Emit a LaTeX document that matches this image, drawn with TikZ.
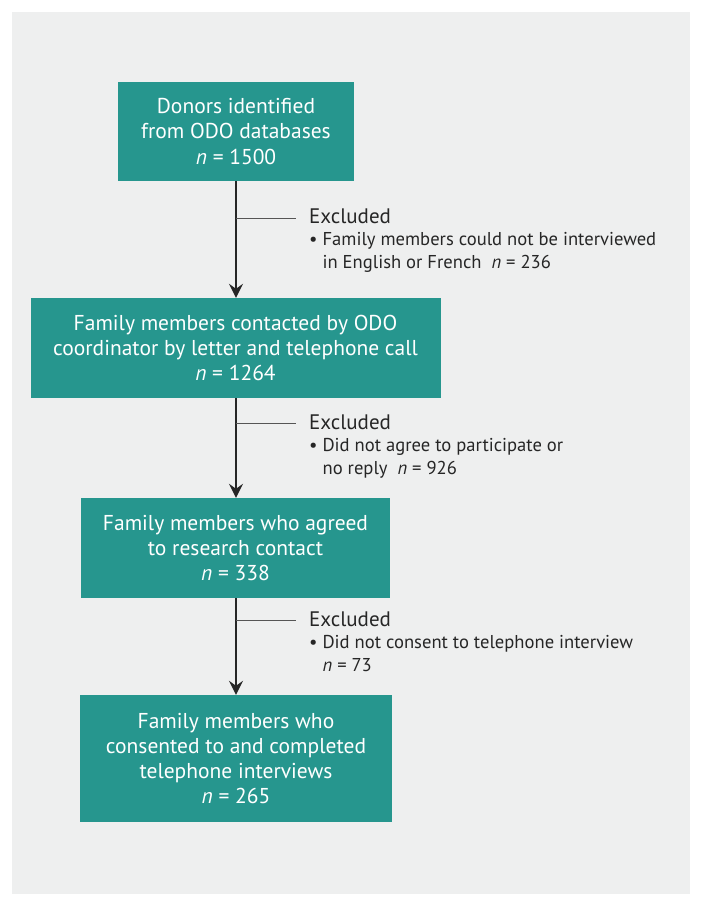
\documentclass[tikz,border=0pt]{standalone}
\usepackage{fontspec}
\setmainfont{PT Sans}
\usetikzlibrary{arrows.meta}
\definecolor{bgc}{HTML}{EEEFEF}
\definecolor{teal1}{HTML}{26968E}
\definecolor{linec}{HTML}{262626}
\definecolor{branchc}{HTML}{555555}
\begin{document}
\begin{tikzpicture}[x=1pt,y=-1pt,
  box/.style={fill=teal1,text=white,align=center,inner sep=0pt,font=\fontsize{21.5}{25.3}\selectfont},
  exhead/.style={anchor=west,inner sep=0pt,text=black!85,font=\fontsize{21}{24}\selectfont},
  exbody/.style={anchor=north west,inner sep=0pt,align=left,text=black!85,font=\fontsize{18.6}{23}\selectfont},
  flow/.style={draw=linec,line width=1.4pt,-{Stealth[length=14pt,width=14pt,inset=5pt]}},
  branch/.style={draw=branchc,line width=1.2pt}]
\useasboundingbox (0,0) rectangle (703,907);
\fill[bgc] (12,12) rectangle (690,894);
\node[box,minimum width=236pt,minimum height=99pt] (b1) at (236,131.5) {Donors identified\\from ODO databases\\\textit{n} = 1500};
\node[box,minimum width=410pt,minimum height=100pt] (b2) at (235.5,348) {Family members contacted by ODO\\coordinator by letter and telephone call\\\textit{n} = 1264};
\node[box,minimum width=309pt,minimum height=100pt] (b3) at (235.5,548) {Family members who agreed\\to research contact\\\textit{n} = 338};
\node[box,minimum width=312pt,minimum height=127pt] (b4) at (236,758.5) {Family members who\\consented to and completed\\telephone interviews\\\textit{n} = 265};
\draw[flow] (b1.south -| 236,0) -- (b2.north -| 236,0);
\draw[flow] (b2.south -| 236,0) -- (b3.north -| 236,0);
\draw[flow] (b3.south -| 236,0) -- (b4.north -| 236,0);
\coordinate (j1) at (236,218.5); \coordinate (e1) at (296,218.5);
\coordinate (j2) at (236,423.5); \coordinate (e2) at (296,423.5);
\coordinate (j3) at (236,620.5); \coordinate (e3) at (296,620.5);
\draw[branch] (j1) -- (e1);
\draw[branch] (j2) -- (e2);
\draw[branch] (j3) -- (e3);
\node[exhead] (x1) at (309,216) {Excluded};
\node[exbody] (t1) at (309,232) {• Family members could not be interviewed\\\hphantom{• }in English or French \ \textit{n} = 236};
\node[exhead] (x2) at (309,422) {Excluded};
\node[exbody] (t2) at (309,438) {• Did not agree to participate or\\\hphantom{• }no reply \ \textit{n} = 926};
\node[exhead] (x3) at (309,619) {Excluded};
\node[exbody] (t3) at (309,635) {• Did not consent to telephone interview\\\hphantom{• }\textit{n} = 73};
\end{tikzpicture}
\end{document}
